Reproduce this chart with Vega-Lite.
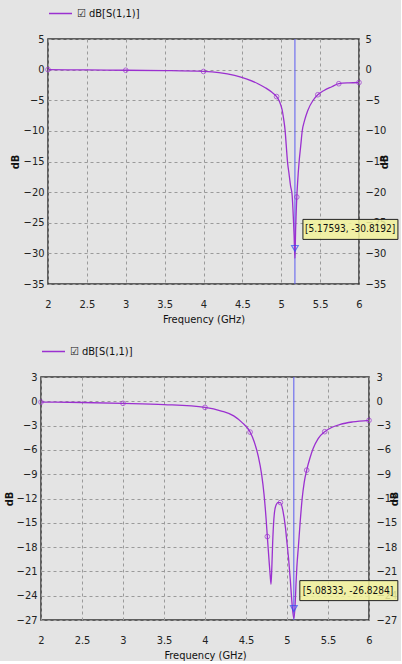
{
  "$schema": "https://vega.github.io/schema/vega-lite/v6.json",
  "background": "#e4e4e4",
  "padding": {"left": 2, "top": 0, "right": 0, "bottom": 0},
  "spacing": 13,
  "align": "none",
  "config": {
    "font": "DejaVu Sans Condensed, Liberation Sans",
    "view": {"stroke": "#333333", "strokeWidth": 1.5, "fill": "#e4e4e4"},
    "axis": {
      "labelFont": "DejaVu Sans Condensed, Liberation Sans", "labelFontSize": 11, "labelColor": "#222222", "labelOverlap": false,
      "titleFont": "DejaVu Sans Condensed, Liberation Sans", "titleFontSize": 11, "titleColor": "#111111", "titleFontWeight": "normal",
      "domain": false, "ticks": false, "grid": true, "gridColor": "#9a9a9a", "gridDash": [3, 3], "gridWidth": 1
    },
    "axisX": {"values": [2, 2.5, 3, 3.5, 4, 4.5, 5, 5.5, 6], "format": "~g", "labelPadding": 14, "titlePadding": 4, "labelOverlap": false, "labelBound": false, "labelFlush": false},
    "legend": {"labelFont": "DejaVu Sans Condensed, Liberation Sans", "labelFontSize": 11, "labelColor": "#111111"}
  },
  "resolve": {"scale": {"x": "independent", "y": "independent", "color": "independent"}, "legend": {"color": "independent"}},
  "datasets": {
    "top": [
      {"f": 2.0, "db": 0}, {"f": 2.5, "db": -0.05}, {"f": 3.0, "db": -0.1}, {"f": 3.5, "db": -0.15},
      {"f": 4.0, "db": -0.3}, {"f": 4.2, "db": -0.5}, {"f": 4.4, "db": -0.95}, {"f": 4.55, "db": -1.5},
      {"f": 4.7, "db": -2.3}, {"f": 4.8, "db": -3.0}, {"f": 4.88, "db": -3.7}, {"f": 4.94, "db": -4.4},
      {"f": 4.98, "db": -5.3}, {"f": 5.01, "db": -6.5}, {"f": 5.03, "db": -8}, {"f": 5.05, "db": -10},
      {"f": 5.065, "db": -12.5}, {"f": 5.08, "db": -15}, {"f": 5.1, "db": -17}, {"f": 5.12, "db": -19},
      {"f": 5.14, "db": -20.5}, {"f": 5.155, "db": -24}, {"f": 5.165, "db": -27}, {"f": 5.176, "db": -30.8},
      {"f": 5.185, "db": -26}, {"f": 5.193, "db": -23}, {"f": 5.2, "db": -20.8}, {"f": 5.21, "db": -18.5},
      {"f": 5.23, "db": -15}, {"f": 5.25, "db": -12.5}, {"f": 5.27, "db": -10}, {"f": 5.3, "db": -8.3},
      {"f": 5.34, "db": -6.7}, {"f": 5.41, "db": -5}, {"f": 5.47, "db": -4.1}, {"f": 5.55, "db": -3.4},
      {"f": 5.65, "db": -2.8}, {"f": 5.74, "db": -2.3}, {"f": 5.87, "db": -2.15}, {"f": 6.0, "db": -2.1}
    ],
    "topPts": [
      {"f": 2.0, "db": 0}, {"f": 3.0, "db": -0.1}, {"f": 4.0, "db": -0.3}, {"f": 4.94, "db": -4.4},
      {"f": 5.2, "db": -20.8}, {"f": 5.47, "db": -4.1}, {"f": 5.74, "db": -2.3}, {"f": 6.0, "db": -2.1}
    ],
    "topMarker": [{"f": 5.17593, "db": -30.8192, "label": "[5.17593, -30.8192]"}],
    "bottom": [
      {"f": 2.0, "db": -0.1}, {"f": 2.5, "db": -0.15}, {"f": 3.0, "db": -0.25}, {"f": 3.5, "db": -0.4},
      {"f": 4.0, "db": -0.75}, {"f": 4.2, "db": -1.2}, {"f": 4.35, "db": -1.8}, {"f": 4.45, "db": -2.6},
      {"f": 4.55, "db": -3.8}, {"f": 4.6, "db": -5.0}, {"f": 4.65, "db": -6.8}, {"f": 4.69, "db": -9},
      {"f": 4.72, "db": -11.5}, {"f": 4.745, "db": -14.5}, {"f": 4.76, "db": -16.7}, {"f": 4.78, "db": -19.5},
      {"f": 4.795, "db": -21.5}, {"f": 4.805, "db": -22.6}, {"f": 4.815, "db": -20.5}, {"f": 4.825, "db": -17.5},
      {"f": 4.84, "db": -14.5}, {"f": 4.86, "db": -13}, {"f": 4.89, "db": -12.5}, {"f": 4.92, "db": -12.5},
      {"f": 4.95, "db": -13.5}, {"f": 4.98, "db": -15.5}, {"f": 5.0, "db": -17.5}, {"f": 5.02, "db": -19.5},
      {"f": 5.04, "db": -22}, {"f": 5.06, "db": -24.8}, {"f": 5.083, "db": -26.83}, {"f": 5.1, "db": -25},
      {"f": 5.11, "db": -22.5}, {"f": 5.12, "db": -20.5}, {"f": 5.14, "db": -17.8}, {"f": 5.16, "db": -15},
      {"f": 5.185, "db": -12}, {"f": 5.21, "db": -10}, {"f": 5.24, "db": -8.5}, {"f": 5.28, "db": -7},
      {"f": 5.32, "db": -5.8}, {"f": 5.38, "db": -4.6}, {"f": 5.46, "db": -3.75}, {"f": 5.55, "db": -3.2},
      {"f": 5.65, "db": -2.85}, {"f": 5.8, "db": -2.55}, {"f": 6.0, "db": -2.35}
    ],
    "bottomPts": [
      {"f": 2.0, "db": -0.1}, {"f": 3.0, "db": -0.25}, {"f": 4.0, "db": -0.75}, {"f": 4.55, "db": -3.8},
      {"f": 4.76, "db": -16.7}, {"f": 4.92, "db": -12.5}, {"f": 5.24, "db": -8.5}, {"f": 5.46, "db": -3.75},
      {"f": 6.0, "db": -2.35}
    ],
    "bottomMarker": [{"f": 5.08333, "db": -26.8284, "label": "[5.08333, -26.8284]"}],
    "spacer": [{"s": 0}]
  },
  "vconcat": [
    {
      "spacing": -34,
      "align": "none",
      "resolve": {"scale": {"color": "independent"}, "legend": {"color": "independent"}},
      "hconcat": [
        {
          "width": 1, "height": 1,
          "view": {"stroke": null, "fill": null},
          "data": {"name": "spacer"},
          "mark": {"type": "point", "opacity": 0, "size": 1}
        },
        {
          "width": 311, "height": 245,
          "resolve": {"axis": {"y": "independent"}},
          "layer": [
            {
              "data": {"name": "topMarker"},
              "mark": {"type": "rule", "color": "#5a5af0", "strokeWidth": 1},
              "encoding": {"x": {"field": "f", "type": "quantitative", "scale": {"domain": [2, 6], "nice": false, "zero": false}, "title": "Frequency (GHz)"}}
            },
            {
              "data": {"name": "top"},
              "mark": {"type": "line", "strokeWidth": 1.3, "interpolate": "monotone"},
              "encoding": {
                "x": {"field": "f", "type": "quantitative", "scale": {"domain": [2, 6], "nice": false, "zero": false}, "title": "Frequency (GHz)"},
                "y": {"field": "db", "type": "quantitative", "scale": {"domain": [-35, 5], "nice": false, "zero": false},
                      "axis": {"orient": "left", "title": "dB", "titleFontWeight": "bold", "titleAngle": 270, "values": [5, 0, -5, -10, -15, -20, -25, -30, -35], "labelPadding": 4, "titlePadding": 3}},
                "color": {"datum": "dB[S(1,1)]", "scale": {"range": ["#9b30d0"]},
                          "legend": {"title": null, "orient": "top", "offset": 20, "symbolType": "stroke", "symbolSize": 529, "symbolStrokeWidth": 1.5, "labelExpr": "'☑ ' + datum.label"}}
              }
            },
            {
              "data": {"name": "topPts"},
              "mark": {"type": "point", "shape": "circle", "size": 22, "color": "#9b30d0", "strokeWidth": 1},
              "encoding": {
                "x": {"field": "f", "type": "quantitative", "scale": {"domain": [2, 6], "nice": false, "zero": false}, "title": "Frequency (GHz)"},
                "y": {"field": "db", "type": "quantitative", "scale": {"domain": [-35, 5], "nice": false, "zero": false},
                      "axis": {"orient": "right", "title": "dB", "titleFontWeight": "bold", "titleAngle": 270, "values": [5, 0, -5, -10, -15, -20, -25, -30, -35], "labelPadding": 6, "titlePadding": 4, "grid": false}}
              }
            },
            {
              "data": {"name": "topMarker"},
              "mark": {"type": "point", "shape": "triangle-down", "size": 45, "color": "#3050f0", "strokeWidth": 1.2, "yOffset": -10},
              "encoding": {
                "x": {"field": "f", "type": "quantitative", "scale": {"domain": [2, 6], "nice": false, "zero": false}, "title": "Frequency (GHz)"},
                "y": {"field": "db", "type": "quantitative", "scale": {"domain": [-35, 5], "nice": false, "zero": false}, "axis": null}
              }
            },
            {
              "data": {"name": "topMarker"},
              "mark": {"type": "rect", "fill": "#f2f29a", "fillOpacity": 0.85, "stroke": "#222222", "strokeWidth": 1, "xOffset": 8, "x2Offset": 103, "yOffset": -39, "y2Offset": -19},
              "encoding": {
                "x": {"field": "f", "type": "quantitative", "scale": {"domain": [2, 6], "nice": false, "zero": false}, "title": "Frequency (GHz)"}, "x2": {"field": "f"},
                "y": {"field": "db", "type": "quantitative", "scale": {"domain": [-35, 5], "nice": false, "zero": false}, "axis": null}, "y2": {"field": "db"}
              }
            },
            {
              "data": {"name": "topMarker"},
              "mark": {"type": "text", "align": "left", "baseline": "middle", "dx": 10, "dy": -29, "fontSize": 10, "color": "#111111"},
              "encoding": {
                "x": {"field": "f", "type": "quantitative", "scale": {"domain": [2, 6], "nice": false, "zero": false}, "title": "Frequency (GHz)"},
                "y": {"field": "db", "type": "quantitative", "scale": {"domain": [-35, 5], "nice": false, "zero": false}, "axis": null},
                "text": {"field": "label"}
              }
            }
          ]
        }
      ]
    },
    {
      "width": 328, "height": 243,
      "resolve": {"axis": {"y": "independent"}},
      "layer": [
        {
          "data": {"name": "bottomMarker"},
          "mark": {"type": "rule", "color": "#5a5af0", "strokeWidth": 1},
          "encoding": {"x": {"field": "f", "type": "quantitative", "scale": {"domain": [2, 6], "nice": false, "zero": false}, "title": "Frequency (GHz)"}}
        },
        {
          "data": {"name": "bottom"},
          "mark": {"type": "line", "strokeWidth": 1.3, "interpolate": "monotone"},
          "encoding": {
            "x": {"field": "f", "type": "quantitative", "scale": {"domain": [2, 6], "nice": false, "zero": false}, "title": "Frequency (GHz)"},
            "y": {"field": "db", "type": "quantitative", "scale": {"domain": [-27, 3], "nice": false, "zero": false},
                  "axis": {"orient": "left", "title": "dB", "titleFontWeight": "bold", "titleAngle": 270, "values": [3, 0, -3, -6, -9, -12, -15, -18, -21, -24, -27], "labelPadding": 4, "titlePadding": 2}},
            "color": {"datum": "dB[S(1,1)]", "scale": {"range": ["#9b30d0"]},
                      "legend": {"title": null, "orient": "top", "offset": 20, "symbolType": "stroke", "symbolSize": 529, "symbolStrokeWidth": 1.5, "labelExpr": "'☑ ' + datum.label"}}
          }
        },
        {
          "data": {"name": "bottomPts"},
          "mark": {"type": "point", "shape": "circle", "size": 22, "color": "#9b30d0", "strokeWidth": 1},
          "encoding": {
            "x": {"field": "f", "type": "quantitative", "scale": {"domain": [2, 6], "nice": false, "zero": false}, "title": "Frequency (GHz)"},
            "y": {"field": "db", "type": "quantitative", "scale": {"domain": [-27, 3], "nice": false, "zero": false},
                  "axis": {"orient": "right", "title": "dB", "titleFontWeight": "bold", "titleAngle": 270, "values": [3, 0, -3, -6, -9, -12, -15, -18, -21, -24, -27], "labelPadding": 7, "titlePadding": 3, "grid": false}}
          }
        },
        {
          "data": {"name": "bottomMarker"},
          "mark": {"type": "point", "shape": "triangle-down", "size": 45, "color": "#3050f0", "strokeWidth": 1.2, "yOffset": -10},
          "encoding": {
            "x": {"field": "f", "type": "quantitative", "scale": {"domain": [2, 6], "nice": false, "zero": false}, "title": "Frequency (GHz)"},
            "y": {"field": "db", "type": "quantitative", "scale": {"domain": [-27, 3], "nice": false, "zero": false}, "axis": null}
          }
        },
        {
          "data": {"name": "bottomMarker"},
          "mark": {"type": "rect", "fill": "#f2f29a", "fillOpacity": 0.85, "stroke": "#222222", "strokeWidth": 1, "xOffset": 6, "x2Offset": 104, "yOffset": -38, "y2Offset": -18},
          "encoding": {
            "x": {"field": "f", "type": "quantitative", "scale": {"domain": [2, 6], "nice": false, "zero": false}, "title": "Frequency (GHz)"}, "x2": {"field": "f"},
            "y": {"field": "db", "type": "quantitative", "scale": {"domain": [-27, 3], "nice": false, "zero": false}, "axis": null}, "y2": {"field": "db"}
          }
        },
        {
          "data": {"name": "bottomMarker"},
          "mark": {"type": "text", "align": "left", "baseline": "middle", "dx": 9, "dy": -28, "fontSize": 10, "color": "#111111"},
          "encoding": {
            "x": {"field": "f", "type": "quantitative", "scale": {"domain": [2, 6], "nice": false, "zero": false}, "title": "Frequency (GHz)"},
            "y": {"field": "db", "type": "quantitative", "scale": {"domain": [-27, 3], "nice": false, "zero": false}, "axis": null},
            "text": {"field": "label"}
          }
        }
      ]
    }
  ]
}
